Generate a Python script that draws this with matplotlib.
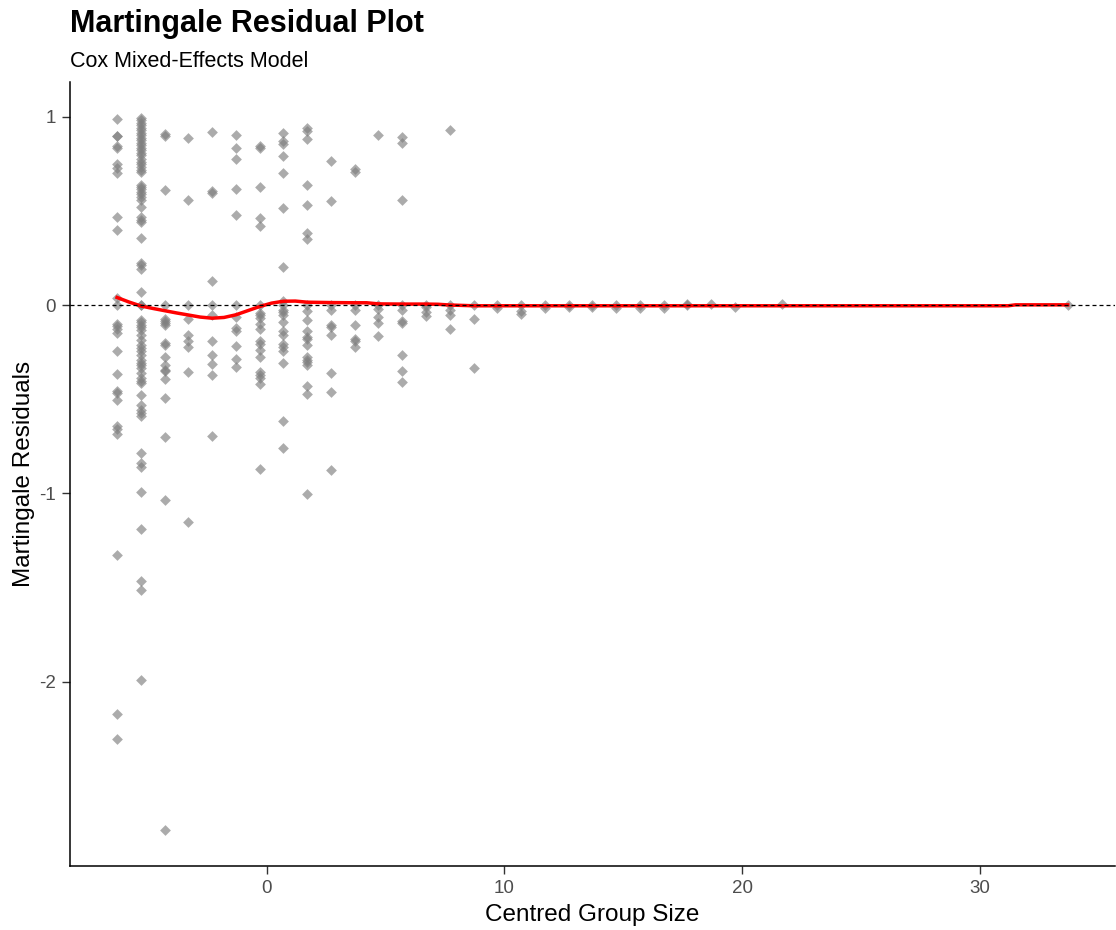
import matplotlib
matplotlib.use("Agg")
import matplotlib.pyplot as plt

plt.rcParams["font.family"] = ["Liberation Sans", "DejaVu Sans"]
plt.rcParams["axes.unicode_minus"] = False

# centred group size of each column of points
centred_group = [-6.3, -5.3, -4.3, -3.3, -2.3, -1.3, -0.3, 0.7, 1.7, 2.7,
                 3.7, 4.7, 5.7, 6.7, 7.7, 8.7, 9.7, 10.7, 11.7, 12.7,
                 13.7, 14.7, 15.7, 16.7, 17.7, 18.7, 19.7, 21.7, 33.7]

residuals = [
    [0.986, 0.90, 0.895, 0.844, 0.832, 0.75, 0.726, 0.70, 0.465, 0.40, 0.036, 0.0,
     -0.103, -0.113, -0.126, -0.149, -0.246, -0.367, -0.455, -0.468, -0.507,
     -0.645, -0.66, -0.686, -1.328, -2.17, -2.305],
    [0.995, 0.981, 0.968, 0.954, 0.942, 0.927, 0.915, 0.901, 0.888, 0.874, 0.862,
     0.849, 0.835, 0.821, 0.809, 0.796, 0.773, 0.761, 0.747, 0.732, 0.718, 0.706,
     0.640, 0.628, 0.614, 0.600, 0.587, 0.573, 0.560, 0.523, 0.466, 0.454, 0.440,
     0.355, 0.224, 0.211, 0.192, 0.067, 0.0, 0.0,
     -0.078, -0.090, -0.104, -0.119, -0.131, -0.157, -0.184, -0.211, -0.228,
     -0.246, -0.264, -0.291, -0.308, -0.317, -0.335, -0.361, -0.388, -0.402,
     -0.415, -0.477, -0.530, -0.557, -0.574, -0.587, -0.787, -0.837, -0.861,
     -0.995, -1.19, -1.464, -1.515, -1.99],
    [0.906, 0.900, 0.61, 0.0, -0.073, -0.083, -0.096, -0.108, -0.202, -0.214,
     -0.278, -0.317, -0.344, -0.352, -0.395, -0.492, -0.700, -1.033, -2.79],
    [0.888, 0.560, 0.0, -0.072, -0.157, -0.193, -0.225, -0.356, -1.15],
    [0.920, 0.608, 0.596, 0.126, 0.0, -0.055, -0.193, -0.264, -0.312, -0.369, -0.695],
    [0.901, 0.835, 0.777, 0.615, 0.477, 0.0, -0.065, -0.122, -0.136, -0.220,
     -0.285, -0.330],
    [0.844, 0.835, 0.626, 0.463, 0.419, 0.0, -0.043, -0.055, -0.069, -0.101,
     -0.126, -0.19, -0.207, -0.237, -0.276, -0.358, -0.371, -0.385, -0.42, -0.87],
    [0.915, 0.871, 0.853, 0.791, 0.699, 0.516, 0.204, 0.023, 0.0, -0.025, -0.037,
     -0.051, -0.09, -0.14, -0.161, -0.207, -0.225, -0.243, -0.308, -0.615, -0.757],
    [0.938, 0.924, 0.880, 0.635, 0.529, 0.381, 0.348, 0.0, -0.034, -0.081, -0.14,
     -0.172, -0.179, -0.211, -0.278, -0.29, -0.305, -0.317, -0.432, -0.473, -1.005],
    [0.764, 0.555, 0.0, -0.028, -0.104, -0.118, -0.158, -0.361, -0.464, -0.877],
    [0.72, 0.708, 0.0, -0.025, -0.108, -0.179, -0.19, -0.225],
    [0.901, 0.0, -0.02, -0.066, -0.095, -0.166],
    [0.892, 0.862, 0.557, 0.0, -0.025, -0.083, -0.097, -0.264, -0.349, -0.411],
    [0.0, -0.012, -0.037, -0.06],
    [0.927, 0.0, -0.025, -0.055, -0.126],
    [0.0, -0.075, -0.337],
    [0.0, -0.016],
    [0.0, -0.03, -0.048],
    [0.0, -0.016],
    [0.0, -0.012],
    [0.0, -0.012],
    [0.0, -0.016],
    [0.0, -0.016],
    [0.0, -0.016],
    [0.008, 0.0],
    [0.008],
    [-0.01],
    [0.005],
    [0.0],
]

# smoothed trend (red line)
smooth_x = [-6.3, -5.8, -5.3, -4.8, -4.3, -3.8, -3.3, -2.8, -2.3, -1.8, -1.3,
            -0.8, -0.3, 0.2, 0.7, 1.2, 1.7, 2.7, 3.7, 4.2, 4.7, 5.7, 6.7, 7.2,
            7.7, 8.7, 31.2, 31.5, 33.7]
smooth_y = [0.040, 0.016, -0.005, -0.018, -0.030, -0.042, -0.053, -0.064, -0.070,
            -0.066, -0.052, -0.030, -0.008, 0.010, 0.020, 0.021, 0.015, 0.013,
            0.012, 0.012, 0.006, 0.005, 0.005, 0.004, 0.0, -0.004, -0.004, 0.001,
            0.001]

xs = []
ys = []
for gx, vals in zip(centred_group, residuals):
    for v in vals:
        xs.append(gx)
        ys.append(v)

fig = plt.figure(figsize=(11.16, 9.3), dpi=100)
ax = fig.add_axes([0.0623, 0.0688, 0.937, 0.843])

ax.scatter(xs, ys, marker="D", s=30, color="#7f7f7f", alpha=0.65,
           linewidths=0, zorder=2)
ax.plot(smooth_x, smooth_y, color="red", lw=2.5, zorder=3)
ax.axhline(0, color="black", lw=0.9, ls=(0, (3.2, 2.4)), zorder=4)

xmin, xmax = min(xs), max(xs)
ymin, ymax = min(ys), max(ys)
ax.set_xlim(xmin - 0.05 * (xmax - xmin), xmax + 0.05 * (xmax - xmin))
ax.set_ylim(ymin - 0.05 * (ymax - ymin), ymax + 0.05 * (ymax - ymin))

ax.set_xticks([0, 10, 20, 30])
ax.set_yticks([1, 0, -1, -2])
ax.tick_params(axis="both", length=6, width=1, color="#333333",
               labelcolor="#4D4D4D", labelsize=13.5, pad=4)

for side in ["top", "right"]:
    ax.spines[side].set_visible(False)
for side in ["left", "bottom"]:
    ax.spines[side].set_linewidth(1.1)
    ax.spines[side].set_color("black")

ax.set_xlabel("Centred Group Size", fontsize=17.5, labelpad=5)
ax.set_ylabel("Martingale Residuals", fontsize=17.5, labelpad=3)

fig.text(0.0628, 1 - 32 / 930, "Martingale Residual Plot", fontsize=22,
         fontweight="bold", ha="left", va="baseline")
fig.text(0.0628, 1 - 67 / 930, "Cox Mixed-Effects Model", fontsize=15.5,
         ha="left", va="baseline")

fig.savefig("out.png", dpi=100)
